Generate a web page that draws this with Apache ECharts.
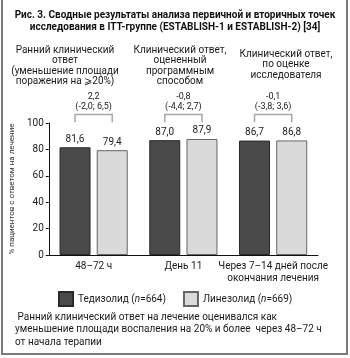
<!DOCTYPE html>
<html><head><meta charset="utf-8">
<script src="https://cdn.jsdelivr.net/npm/echarts@6/dist/echarts.min.js"></script>
<style>html,body{margin:0;padding:0;background:#fff}#c{width:350px;height:358px}</style>
</head><body><div id="c"></div>
<script>
var categories = ['48–72 ч', 'День 11', 'Через 7–14 дней после\nокончания лечения'];
var tedizolid = [81.6, 87.0, 86.7];
var linezolid = [79.4, 87.9, 86.8];
var diffValues = ['2,2', '-0,8', '-0,1'];
var diffCI = ['(-2,0; 6,5)', '(-4,4; 2,7)', '(-3,8; 3,6)'];
var headings = ['Ранний клинический\nответ\n(уменьшение площади\nпоражения на ⩾20%)', 'Клинический ответ,\nоцененный\nпрограммным\nспособом', 'Клинический ответ,\nпо оценке\nисследователя'];
var yTicks = [0, 20, 40, 60, 80, 100];
var seriesNames = ['Тедизолид', 'Линезолид'];
var seriesN = ['664', '669'];

var FF = 'Roboto, "Liberation Sans", sans-serif';
var BAR_W = 31;
var chart = echarts.init(document.getElementById('c'));
function fmt(v){ return v.toFixed(1).replace('.', ','); }
chart.setOption({
  animation: false,
  textStyle: {fontFamily: FF},
  grid: {left: 42, right: 32, top: 123, bottom: 103},
  xAxis: {
    type: 'category', data: categories,
    axisLine: {lineStyle: {color: '#111', width: 1}},
    axisTick: {show: false},
    axisLabel: {interval: 0, color: '#1a1a1a', fontSize: 10, lineHeight: 12, margin: 5, fontFamily: FF}
  },
  yAxis: {
    type: 'value', min: yTicks[0], max: yTicks[yTicks.length-1], interval: 20,
    name: '% пациентов с ответом на лечение', nameLocation: 'middle', nameGap: 28,
    nameTextStyle: {fontSize: 8, color: '#333', fontFamily: FF},
    axisLine: {show: true, lineStyle: {color: '#111', width: 1}},
    axisTick: {show: true, length: 3, lineStyle: {color: '#111'}},
    axisLabel: {color: '#1a1a1a', fontSize: 10, margin: 5, fontFamily: FF},
    splitLine: {show: false}
  },
  legend: {
    left: 53, top: 286, itemWidth: 14, itemHeight: 14, itemGap: 17,
    icon: 'rect',
    data: seriesNames,
    formatter: function(name){ var i = seriesNames.indexOf(name); return '{a|' + name + ' (}{i|n}{a|=' + seriesN[i] + ')}'; },
    textStyle: {rich: {a: {fontSize: 10, color: '#1a1a1a', fontFamily: FF}, i: {fontSize: 10, color: '#1a1a1a', fontStyle: 'italic', fontFamily: FF}}}
  },
  series: [
    {name: seriesNames[0], type: 'bar', data: tedizolid, barWidth: BAR_W, barGap: '20%',
     itemStyle: {color: '#4a4a4a', borderColor: '#2a2a2a', borderWidth: 1},
     label: {show: true, position: 'top', distance: 3, fontSize: 10, color: '#1a1a1a', formatter: function(p){return fmt(p.value);}}},
    {name: seriesNames[1], type: 'bar', data: linezolid, barWidth: BAR_W,
     itemStyle: {color: '#dadada', borderColor: '#666', borderWidth: 1},
     label: {show: true, position: 'top', distance: 3, fontSize: 10, color: '#1a1a1a', formatter: function(p){return fmt(p.value);}}},
    {type: 'custom', clip: false, silent: true, data: [[0],[1],[2]],
     renderItem: function(params, api){
       var i = api.value(0);
       var cx = api.coord([i, 0])[0];
       var top = api.coord([i, 106.5])[1];
       var bot = api.coord([i, 100.5])[1];
       var half = (BAR_W * 1.2) / 2;
       return {type: 'group', children: [
         {type: 'polyline', shape: {points: [[cx-half, bot], [cx-half, top], [cx+half, top], [cx+half, bot]]},
          style: {stroke: '#a8a8a8', fill: null, lineWidth: 1.5}},
         {type: 'text', style: {text: diffValues[i] + '\n' + diffCI[i], x: cx, y: top - 3, align: 'center', verticalAlign: 'bottom',
          fontSize: 9, fontFamily: FF, lineHeight: 10, fill: '#1a1a1a'}}
       ]};
     }}
  ],
  graphic: [
    {type: 'rect', shape: {x: 2, y: -5, width: 345, height: 359}, style: {stroke: '#7a7a7a', fill: null, lineWidth: 2}},
    {type: 'text', x: 175, y: 9, style: {text: 'Рис. 3. Сводные результаты анализа первичной и вторичных точек\nисследования в ITT-группе (ESTABLISH-1 и ESTABLISH-2) [34]',
      align: 'center', fontSize: 10, fontWeight: 'bold', lineHeight: 12.5, fontFamily: FF, fill: '#111'}},
    {type: 'text', x: 65, y: 45, style: {text: headings[0], align: 'center', fontSize: 10, lineHeight: 10.5, fontFamily: FF, fill: '#1a1a1a'}},
    {type: 'text', x: 180, y: 45, style: {text: headings[1], align: 'center', fontSize: 10, lineHeight: 10.5, fontFamily: FF, fill: '#1a1a1a'}},
    {type: 'text', x: 286, y: 49, style: {text: headings[2], align: 'center', fontSize: 10, lineHeight: 10.5, fontFamily: FF, fill: '#1a1a1a'}},
    {type: 'text', x: 15, y: 311, style: {text: ' Ранний клинический ответ на лечение оценивался как\nуменьшение площади воспаления на 20% и более  через 48–72 ч\nот начала терапии',
      verticalAlign: 'top', fontSize: 10, lineHeight: 12.5, fontFamily: FF, fill: '#1a1a1a'}}
  ]
});
</script></body></html>
